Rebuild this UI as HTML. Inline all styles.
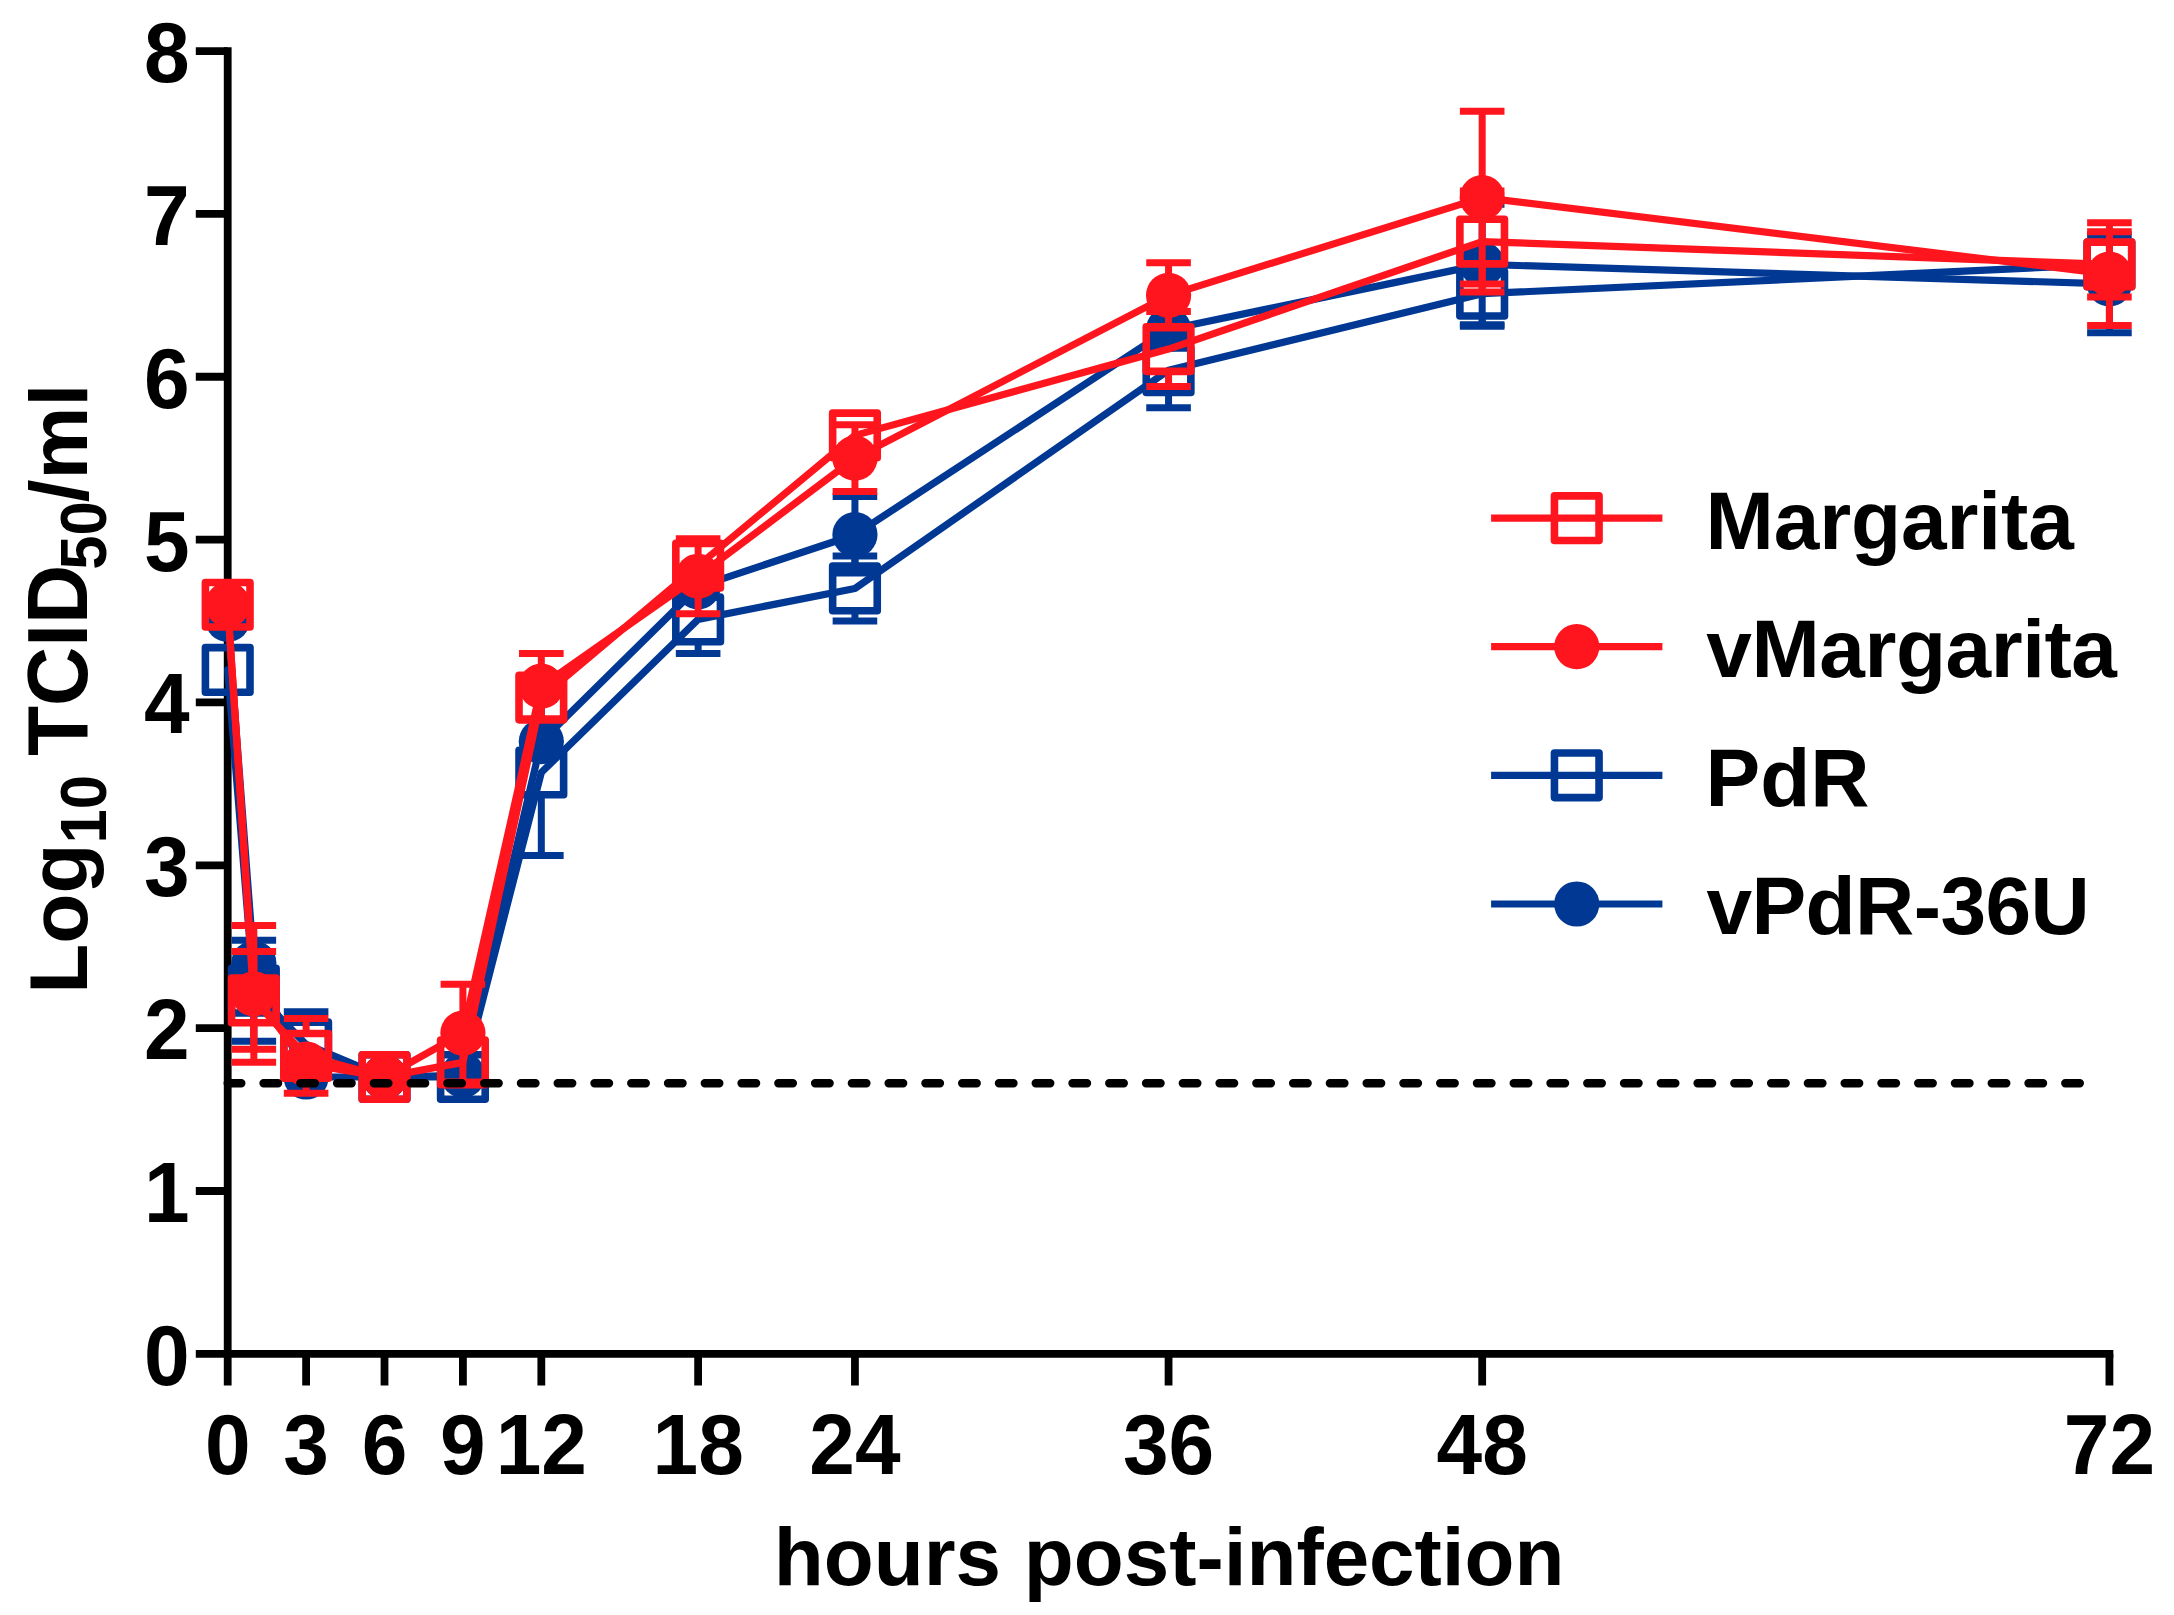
<!DOCTYPE html>
<html lang="en">
<head>
<meta charset="utf-8">
<title>Growth curves</title>
<style>
html,body{margin:0;padding:0;background:#fff;}
body{width:2174px;height:1615px;overflow:hidden;}
svg{display:block;}
</style>
</head>
<body>
<svg width="2174" height="1615" viewBox="0 0 2174 1615" role="img" aria-label="Virus growth curves">
<rect width="2174" height="1615" fill="#ffffff"/>
<g stroke="#000" stroke-width="7.8" fill="none" stroke-linecap="butt">
<path d="M227.7 47.15 V1385.5"/>
<path d="M195.8 1353.85 H2113.32"/>
<path d="M195.8 1191 H227.7"/>
<path d="M195.8 1028.15 H227.7"/>
<path d="M195.8 865.3 H227.7"/>
<path d="M195.8 702.45 H227.7"/>
<path d="M195.8 539.6 H227.7"/>
<path d="M195.8 376.75 H227.7"/>
<path d="M195.8 213.9 H227.7"/>
<path d="M195.8 51.05 H227.7"/>
<path d="M306.11 1353.85 V1385.5"/>
<path d="M384.51 1353.85 V1385.5"/>
<path d="M462.91 1353.85 V1385.5"/>
<path d="M541.32 1353.85 V1385.5"/>
<path d="M698.13 1353.85 V1385.5"/>
<path d="M854.94 1353.85 V1385.5"/>
<path d="M1168.56 1353.85 V1385.5"/>
<path d="M1482.18 1353.85 V1385.5"/>
<path d="M2109.42 1353.85 V1385.5"/>
</g>
<g font-family='"Liberation Sans", sans-serif' font-weight="700" font-size="82" fill="#000">
<text transform="translate(189.5 1384.75) scale(1 1.04)" text-anchor="end">0</text>
<text transform="translate(189.5 1221.9) scale(1 1.04)" text-anchor="end">1</text>
<text transform="translate(189.5 1059.05) scale(1 1.04)" text-anchor="end">2</text>
<text transform="translate(189.5 896.2) scale(1 1.04)" text-anchor="end">3</text>
<text transform="translate(189.5 733.35) scale(1 1.04)" text-anchor="end">4</text>
<text transform="translate(189.5 570.5) scale(1 1.04)" text-anchor="end">5</text>
<text transform="translate(189.5 407.65) scale(1 1.04)" text-anchor="end">6</text>
<text transform="translate(189.5 244.8) scale(1 1.04)" text-anchor="end">7</text>
<text transform="translate(189.5 81.95) scale(1 1.04)" text-anchor="end">8</text>
<text transform="translate(227.7 1474.3) scale(1 1.04)" text-anchor="middle">0</text>
<text transform="translate(306.11 1474.3) scale(1 1.04)" text-anchor="middle">3</text>
<text transform="translate(384.51 1474.3) scale(1 1.04)" text-anchor="middle">6</text>
<text transform="translate(462.91 1474.3) scale(1 1.04)" text-anchor="middle">9</text>
<text transform="translate(541.32 1474.3) scale(1 1.04)" text-anchor="middle">12</text>
<text transform="translate(698.13 1474.3) scale(1 1.04)" text-anchor="middle">18</text>
<text transform="translate(854.94 1474.3) scale(1 1.04)" text-anchor="middle">24</text>
<text transform="translate(1168.56 1474.3) scale(1 1.04)" text-anchor="middle">36</text>
<text transform="translate(1482.18 1474.3) scale(1 1.04)" text-anchor="middle">48</text>
<text transform="translate(2109.42 1474.3) scale(1 1.04)" text-anchor="middle">72</text>
<text x="1169.2" y="1585" text-anchor="middle" font-size="81.8">hours post-infection</text>
<g transform="translate(87.3 993.8) rotate(-90)">
<text x="0" y="0">Log</text>
<text transform="translate(150.3 18.5) scale(1 1.04)" font-size="61.5">10</text>
<text transform="translate(237.8 0) scale(1 1.04)">TCID</text>
<text transform="translate(424.1 18.5) scale(1 1.04)" font-size="61.5">50</text>
<text x="491.6" y="0">/ml</text>
</g>
</g>
<g id="s-vPdR">
<path d="M854.94 496.44 V513.11 M854.94 556.31 V572.98 M832.64 496.44 H877.24 M832.64 572.98 H877.24 M1482.18 204.13 V242.78 M1482.18 285.98 V324.64 M1459.88 204.13 H1504.48 M1459.88 324.64 H1504.48 M2109.42 235.07 V262.33 M2109.42 305.53 V332.78 M2087.12 235.07 H2131.72 M2087.12 332.78 H2131.72" stroke="#003893" stroke-width="7" fill="none"/>
<polyline points="227.7,619.4 253.83,963.01 306.11,1077 384.51,1077 462.91,1075.38 541.32,741.53 698.13,586.83 854.94,534.71 1168.56,329.52 1482.18,264.38 2109.42,283.93" fill="none" stroke="#003893" stroke-width="7.2" stroke-linejoin="round" stroke-linecap="round"/>
<circle cx="227.7" cy="619.4" r="22.6" fill="#003893"/>
<circle cx="253.83" cy="963.01" r="22.6" fill="#003893"/>
<circle cx="306.11" cy="1077" r="22.6" fill="#003893"/>
<circle cx="384.51" cy="1077" r="22.6" fill="#003893"/>
<circle cx="462.91" cy="1075.38" r="22.6" fill="#003893"/>
<circle cx="541.32" cy="741.53" r="22.6" fill="#003893"/>
<circle cx="698.13" cy="586.83" r="22.6" fill="#003893"/>
<circle cx="854.94" cy="534.71" r="22.6" fill="#003893"/>
<circle cx="1168.56" cy="329.52" r="22.6" fill="#003893"/>
<circle cx="1482.18" cy="264.38" r="22.6" fill="#003893"/>
<circle cx="2109.42" cy="283.93" r="22.6" fill="#003893"/>
</g>
<g id="s-PdR">
<path d="M253.83 940.21 V965.59 M253.83 1015.79 V1041.18 M231.53 940.21 H276.13 M231.53 1041.18 H276.13 M306.11 1011.86 V1019.33 M306.11 1069.53 V1077 M283.81 1011.86 H328.41 M283.81 1077 H328.41 M541.32 689.42 V747.38 M541.32 797.58 V855.53 M519.02 689.42 H563.62 M519.02 855.53 H563.62 M698.13 585.2 V594.3 M698.13 644.5 V653.59 M675.83 585.2 H720.43 M675.83 653.59 H720.43 M854.94 555.88 V563.35 M854.94 613.55 V621.02 M832.64 555.88 H877.24 M832.64 621.02 H877.24 M1168.56 332.78 V345.14 M1168.56 395.34 V407.69 M1146.26 332.78 H1190.86 M1146.26 407.69 H1190.86 M1482.18 261.13 V268.6 M1482.18 318.8 V326.27 M1459.88 261.13 H1504.48 M1459.88 326.27 H1504.48" stroke="#003893" stroke-width="7" fill="none"/>
<polyline points="227.7,669.88 253.83,990.69 306.11,1044.43 384.51,1077 462.91,1077 541.32,772.48 698.13,619.4 854.94,588.45 1168.56,370.24 1482.18,293.7 2109.42,264.38" fill="none" stroke="#003893" stroke-width="7.2" stroke-linejoin="round" stroke-linecap="round"/>
<rect x="205.4" y="647.58" width="44.6" height="44.6" fill="none" stroke="#003893" stroke-width="7.6" stroke-linejoin="round"/>
<rect x="231.53" y="968.39" width="44.6" height="44.6" fill="none" stroke="#003893" stroke-width="7.6" stroke-linejoin="round"/>
<rect x="283.81" y="1022.13" width="44.6" height="44.6" fill="none" stroke="#003893" stroke-width="7.6" stroke-linejoin="round"/>
<rect x="362.21" y="1054.7" width="44.6" height="44.6" fill="none" stroke="#003893" stroke-width="7.6" stroke-linejoin="round"/>
<rect x="440.61" y="1054.7" width="44.6" height="44.6" fill="none" stroke="#003893" stroke-width="7.6" stroke-linejoin="round"/>
<rect x="519.02" y="750.18" width="44.6" height="44.6" fill="none" stroke="#003893" stroke-width="7.6" stroke-linejoin="round"/>
<rect x="675.83" y="597.1" width="44.6" height="44.6" fill="none" stroke="#003893" stroke-width="7.6" stroke-linejoin="round"/>
<rect x="832.64" y="566.15" width="44.6" height="44.6" fill="none" stroke="#003893" stroke-width="7.6" stroke-linejoin="round"/>
<rect x="1146.26" y="347.94" width="44.6" height="44.6" fill="none" stroke="#003893" stroke-width="7.6" stroke-linejoin="round"/>
<rect x="1459.88" y="271.4" width="44.6" height="44.6" fill="none" stroke="#003893" stroke-width="7.6" stroke-linejoin="round"/>
<rect x="2087.12" y="242.08" width="44.6" height="44.6" fill="none" stroke="#003893" stroke-width="7.6" stroke-linejoin="round"/>
</g>
<g id="s-vMarg">
<path d="M253.83 925.55 V972.35 M253.83 1015.55 V1062.35 M231.53 925.55 H276.13 M231.53 1062.35 H276.13 M462.91 984.18 V1011.44 M462.91 1054.64 V1081.89 M440.61 984.18 H485.21 M440.61 1081.89 H485.21 M541.32 653.59 V664.56 M541.32 707.76 V718.74 M519.02 653.59 H563.62 M519.02 718.74 H563.62 M698.13 538.79 V554.64 M698.13 597.84 V613.7 M675.83 538.79 H720.43 M675.83 613.7 H720.43 M854.94 424.79 V436.57 M854.94 479.77 V491.56 M832.64 424.79 H877.24 M832.64 491.56 H877.24 M1168.56 262.75 V273.73 M1168.56 316.93 V327.89 M1146.26 262.75 H1190.86 M1146.26 327.89 H1190.86 M1482.18 111.3 V176.02 M1482.18 219.22 V283.93 M1459.88 111.3 H1504.48 M1459.88 283.93 H1504.48 M2109.42 222.86 V252.55 M2109.42 295.75 V325.45 M2087.12 222.86 H2131.72 M2087.12 325.45 H2131.72" stroke="#ff151d" stroke-width="7" fill="none"/>
<polyline points="227.7,604.74 253.83,993.95 306.11,1063.98 384.51,1077 462.91,1033.04 541.32,686.16 698.13,576.24 854.94,458.17 1168.56,295.33 1482.18,197.62 2109.42,274.15" fill="none" stroke="#ff151d" stroke-width="7.2" stroke-linejoin="round" stroke-linecap="round"/>
<circle cx="227.7" cy="604.74" r="22.6" fill="#ff151d"/>
<circle cx="253.83" cy="993.95" r="22.6" fill="#ff151d"/>
<circle cx="306.11" cy="1063.98" r="22.6" fill="#ff151d"/>
<circle cx="384.51" cy="1077" r="22.6" fill="#ff151d"/>
<circle cx="462.91" cy="1033.04" r="22.6" fill="#ff151d"/>
<circle cx="541.32" cy="686.16" r="22.6" fill="#ff151d"/>
<circle cx="698.13" cy="576.24" r="22.6" fill="#ff151d"/>
<circle cx="854.94" cy="458.17" r="22.6" fill="#ff151d"/>
<circle cx="1168.56" cy="295.33" r="22.6" fill="#ff151d"/>
<circle cx="1482.18" cy="197.62" r="22.6" fill="#ff151d"/>
<circle cx="2109.42" cy="274.15" r="22.6" fill="#ff151d"/>
</g>
<g id="s-Marg">
<path d="M253.83 951.61 V975.37 M253.83 1025.57 V1049.32 M231.53 951.61 H276.13 M231.53 1049.32 H276.13 M306.11 1018.38 V1030.73 M306.11 1080.93 V1093.29 M283.81 1018.38 H328.41 M283.81 1093.29 H328.41 M1168.56 311.61 V323.97 M1168.56 374.17 V386.52 M1146.26 311.61 H1190.86 M1146.26 386.52 H1190.86 M1482.18 191.1 V216.48 M1482.18 266.68 V292.07 M1459.88 191.1 H1504.48 M1459.88 292.07 H1504.48 M2109.42 231.81 V239.28 M2109.42 289.48 V296.95 M2087.12 231.81 H2131.72 M2087.12 296.95 H2131.72" stroke="#ff151d" stroke-width="7" fill="none"/>
<polyline points="227.7,604.74 253.83,1000.47 306.11,1055.83 384.51,1077 462.91,1062.35 541.32,697.56 698.13,565.66 854.94,435.38 1168.56,349.07 1482.18,241.58 2109.42,264.38" fill="none" stroke="#ff151d" stroke-width="7.2" stroke-linejoin="round" stroke-linecap="round"/>
<rect x="205.4" y="582.44" width="44.6" height="44.6" fill="none" stroke="#ff151d" stroke-width="7.6" stroke-linejoin="round"/>
<rect x="231.53" y="978.17" width="44.6" height="44.6" fill="none" stroke="#ff151d" stroke-width="7.6" stroke-linejoin="round"/>
<rect x="283.81" y="1033.53" width="44.6" height="44.6" fill="none" stroke="#ff151d" stroke-width="7.6" stroke-linejoin="round"/>
<rect x="362.21" y="1054.7" width="44.6" height="44.6" fill="none" stroke="#ff151d" stroke-width="7.6" stroke-linejoin="round"/>
<rect x="440.61" y="1040.05" width="44.6" height="44.6" fill="none" stroke="#ff151d" stroke-width="7.6" stroke-linejoin="round"/>
<rect x="519.02" y="675.26" width="44.6" height="44.6" fill="none" stroke="#ff151d" stroke-width="7.6" stroke-linejoin="round"/>
<rect x="675.83" y="543.36" width="44.6" height="44.6" fill="none" stroke="#ff151d" stroke-width="7.6" stroke-linejoin="round"/>
<rect x="832.64" y="413.08" width="44.6" height="44.6" fill="none" stroke="#ff151d" stroke-width="7.6" stroke-linejoin="round"/>
<rect x="1146.26" y="326.77" width="44.6" height="44.6" fill="none" stroke="#ff151d" stroke-width="7.6" stroke-linejoin="round"/>
<rect x="1459.88" y="219.28" width="44.6" height="44.6" fill="none" stroke="#ff151d" stroke-width="7.6" stroke-linejoin="round"/>
<rect x="2087.12" y="242.08" width="44.6" height="44.6" fill="none" stroke="#ff151d" stroke-width="7.6" stroke-linejoin="round"/>
</g>
<path d="M227.7 1083.3 H2090" stroke-dashoffset="0.9" stroke="#000" stroke-width="8.4" stroke-linecap="round" stroke-dasharray="14.5 22.27" fill="none"/>
<g font-family='"Liberation Sans", sans-serif' font-weight="700" font-size="82" fill="#000">
<path d="M1491.1 518.2 H1662.4" stroke="#ff151d" stroke-width="7.2" fill="none"/>
<rect x="1554.45" y="495.9" width="44.6" height="44.6" fill="none" stroke="#ff151d" stroke-width="7.6" stroke-linejoin="round"/>
<text x="1705.5" y="548.5" letter-spacing="-0.1">Margarita</text>
<path d="M1491.1 646.7 H1662.4" stroke="#ff151d" stroke-width="7.2" fill="none"/>
<circle cx="1576.75" cy="646.7" r="22.6" fill="#ff151d"/>
<text x="1706.3" y="677" letter-spacing="-0.45">vMargarita</text>
<path d="M1491.1 775.3 H1662.4" stroke="#003893" stroke-width="7.2" fill="none"/>
<rect x="1554.45" y="753" width="44.6" height="44.6" fill="none" stroke="#003893" stroke-width="7.6" stroke-linejoin="round"/>
<text x="1705.5" y="805.6" letter-spacing="0">PdR</text>
<path d="M1491.1 904 H1662.4" stroke="#003893" stroke-width="7.2" fill="none"/>
<circle cx="1576.75" cy="904" r="22.6" fill="#003893"/>
<text x="1706.5" y="934.3" letter-spacing="-0.6">vPdR-36U</text>
</g>
</svg>
</body>
</html>
